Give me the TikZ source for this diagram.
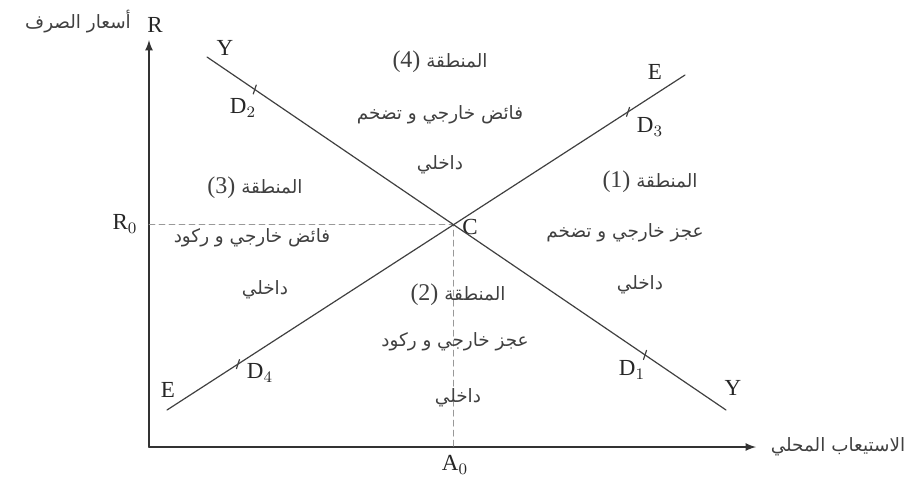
\documentclass[tikz,border=0pt]{standalone}
\usepackage{fontspec}
\setmainfont{Liberation Serif}
\newfontfamily\arabicfont[Script=Arabic]{DejaVu Sans}
\TeXXeTstate=1
\newcommand{\artxt}[1]{\beginR #1\endR}
\newcommand{\num}[1]{\beginL{\rmfamily\fontsize{12}{14}\selectfont(#1)}\endL}
\begin{document}
\begin{tikzpicture}[x=25pt,y=25pt,line join=round,line cap=round]
	\useasboundingbox (-2.98,-0.64) rectangle (15.2,8.94);
	\tikzset{lettre/.style={font=\fontsize{11.5}{13}\selectfont,text=black!85,inner sep=1pt},
		zone/.style={font={\fontsize{9.2}{11}\arabicfont},text=black!75,inner sep=1pt},
		droite/.style={black!75,line width=0.6pt},
		axe/.style={black!80,line width=0.8pt,-latex},
		pointille/.style={black!40,dash pattern=on 3pt off 2pt,line width=0.4pt}}
	\path
	(0,0) coordinate (O)
	(0,8.14) coordinate (Rtip)
	(12.14,0) coordinate (Atip)
	(1.16,7.8) coordinate (Yh)
	(11.54,0.74) coordinate (Yb)
	(0.36,0.74) coordinate (Eb)
	(10.72,7.44) coordinate (Eh)
	(intersection of Yh--Yb and Eb--Eh) coordinate (C);
	\path (C -| O) coordinate (R0) (C |- O) coordinate (A0);
	%axes
	\draw[axe] (O)--(Rtip);
	\draw[axe] (O)--(Atip);
	\draw[pointille] (R0)--(C)--(A0);
	%droites YY et EE
	\draw[droite] (Yh)--(Yb) coordinate[pos=.092] (d2) coordinate[pos=.844] (d1);
	\draw[droite] (Eb)--(Eh) coordinate[pos=.137] (d4) coordinate[pos=.89] (d3);
	\foreach \p in {d1,d2,d3,d4} \draw[droite] (\p) ++(0.03,0.09)--++(-0.06,-0.18);
	\foreach \n/\t/\x/\y in {yh/Y/1.52/7.98, yb/Y/11.68/1.18, eh/E/10.12/7.5, eb/E/0.38/1.14,
		ld2/D$_2$/1.88/6.78, ld3/D$_3$/10.02/6.4, ld1/D$_1$/9.66/1.54, ld4/D$_4$/2.22/1.48,
		lc/C/6.42/4.4, lr0/R$_0$/-0.48/4.46, la0/A$_0$/6.12/-0.36, lr/R/0.12/8.44}
		\node[lettre] (\n) at (\x,\y) {\t};
	\node[zone] (taux) at (-1.42,8.5) {\artxt{أسعار الصرف}};
	\node[zone] (absorb) at (13.78,0) {\artxt{الاستيعاب المحلي}};
	%les zones
	\node[zone] (z4a) at (5.82,7.7) {\artxt{المنطقة \num{4}}};
	\node[zone] (z4b) at (5.82,6.64) {\artxt{فائض خارجي و تضخم}};
	\node[zone] (z4c) at (5.82,5.64) {\artxt{داخلي}};
	\node[zone] (z1a) at (10.02,5.3) {\artxt{المنطقة \num{1}}};
	\node[zone] (z1b) at (9.52,4.28) {\artxt{عجز خارجي و تضخم}};
	\node[zone] (z1c) at (9.82,3.24) {\artxt{داخلي}};
	\node[zone] (z3a) at (2.12,5.18) {\artxt{المنطقة \num{3}}};
	\node[zone] (z3b) at (2.06,4.18) {\artxt{فائض خارجي و ركود}};
	\node[zone] (z3c) at (2.32,3.14) {\artxt{داخلي}};
	\node[zone] (z2a) at (6.18,3.04) {\artxt{المنطقة \num{2}}};
	\node[zone] (z2b) at (6.12,2.1) {\artxt{عجز خارجي و ركود}};
	\node[zone] (z2c) at (6.18,0.98) {\artxt{داخلي}};
\end{tikzpicture}
\end{document}
